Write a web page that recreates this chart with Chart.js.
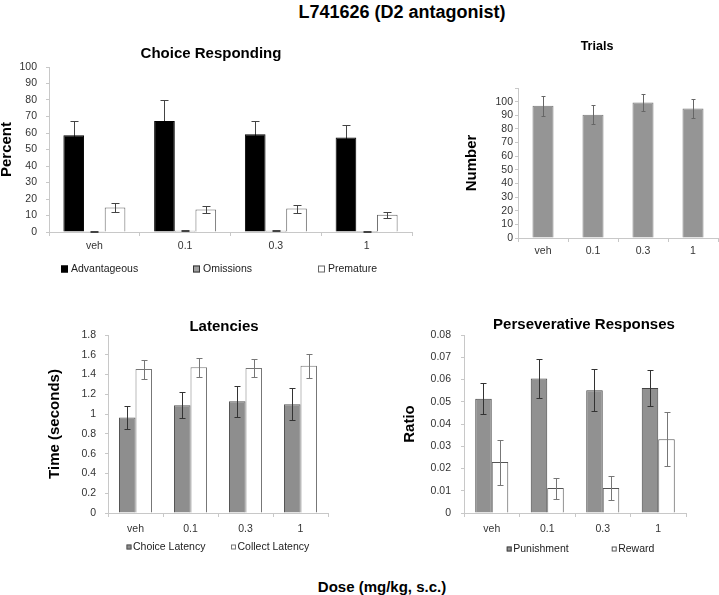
<!DOCTYPE html>
<html>
<head>
<meta charset="utf-8">
<script src="https://cdn.jsdelivr.net/npm/chart.js@4/dist/chart.umd.min.js"></script>
<style>
  html, body { margin: 0; padding: 0; background: #fff; }
  body { width: 719px; height: 595px; overflow: hidden; position: relative; font-family: 'Liberation Sans', Arial, sans-serif; }
  canvas { position: absolute; }
  .txt { position: absolute; text-align: center; font-weight: bold; color: #000; white-space: nowrap; }
</style>
</head>
<body>
<div class="txt" style="left:202px;width:400px;top:3px;font-size:18px;line-height:18px;">L741626 (D2 antagonist)</div>
<div class="txt" style="left:232px;width:300px;top:579px;font-size:15px;line-height:15px;">Dose (mg/kg, s.c.)</div>
<canvas id="c1" width="422" height="245" style="left:0px;top:40px;"></canvas>
<canvas id="c2" width="299" height="215" style="left:420px;top:40px;"></canvas>
<canvas id="c3" width="360" height="260" style="left:0px;top:300px;"></canvas>
<canvas id="c4" width="339" height="260" style="left:380px;top:300px;"></canvas>
<script>
// ---------- data ----------
const doses = ['veh', '0.1', '0.3', '1'];

const advantageous = [58.6, 67.3, 59.2, 57.2];
const advantageousErr = [8.5, 13, 8, 7.5];
const omissions = [0.4, 0.8, 0.8, 0.6];
const omissionsErr = [0.2, 0.4, 0.4, 0.3];
const premature = [14.8, 13.6, 14.2, 10.5];
const prematureErr = [2.7, 2.3, 2.4, 1.9];
const percentTicks = ['0', '10', '20', '30', '40', '50', '60', '70', '80', '90', '100'];

const trials = [96.9, 90.3, 99.3, 94.9];
const trialsErr = [7.5, 7, 6.5, 7];
const numberTicks = ['0', '10', '20', '30', '40', '50', '60', '70', '80', '90', '100', ''];

const choiceLatency = [0.965, 1.09, 1.13, 1.10];
const choiceLatencyErr = [0.12, 0.13, 0.155, 0.16];
const collectLatency = [1.455, 1.473, 1.466, 1.49];
const collectLatencyErr = [0.095, 0.095, 0.095, 0.12];
const timeTicks = ['0', '0.2', '0.4', '0.6', '0.8', '1', '1.2', '1.4', '1.6', '1.8'];

const punishment = [0.0513, 0.0604, 0.0552, 0.0562];
const punishmentErr = [0.007, 0.0087, 0.0095, 0.008];
const reward = [0.0229, 0.0112, 0.0112, 0.0332];
const rewardErr = [0.0101, 0.0047, 0.0055, 0.0123];
const ratioTicks = ['0', '0.01', '0.02', '0.03', '0.04', '0.05', '0.06', '0.07', '0.08'];

// ---------- helpers ----------
const FONT = "'Liberation Sans', Arial, sans-serif";
Chart.defaults.font.family = FONT;
Chart.defaults.color = '#333';
const AXIS = '#c8c8c8';

// behindFlags[i] true -> that dataset's error bars are drawn before the bars (hidden inside them)
function errorBarsPlugin(errs, colors, half, behindFlags) {
  function drawErrors(chart, wantBehind) {
    const ctx = chart.ctx, ys = chart.scales.y;
    chart.data.datasets.forEach((ds, i) => {
      const behind = !!(behindFlags && behindFlags[i]);
      if (behind !== wantBehind) return;
      const meta = chart.getDatasetMeta(i);
      meta.data.forEach((bar, j) => {
        const v = ds.data[j], e = errs[i][j];
        const x = Math.round(bar.x) + 0.5;
        const yt = Math.round(ys.getPixelForValue(v + e)) + 0.5;
        const yb = Math.round(ys.getPixelForValue(Math.max(v - e, 0))) + 0.5;
        ctx.save();
        ctx.strokeStyle = colors[i];
        ctx.lineWidth = 1;
        ctx.beginPath();
        ctx.moveTo(x, yt); ctx.lineTo(x, yb);
        ctx.moveTo(x - half, yt); ctx.lineTo(x + half, yt);
        ctx.moveTo(x - half, yb); ctx.lineTo(x + half, yb);
        ctx.stroke();
        ctx.restore();
      });
    });
  }
  return {
    id: 'errorBars',
    beforeDatasetsDraw(chart) { drawErrors(chart, true); },
    afterDatasetsDraw(chart) { drawErrors(chart, false); }
  };
}

function legendPlugin(xs, y, box, gap) {
  return {
    id: 'rowLegend',
    afterDraw(chart) {
      const ctx = chart.ctx;
      chart.data.datasets.forEach((ds, i) => {
        const x = xs[i];
        ctx.save();
        ctx.fillStyle = ds.backgroundColor;
        ctx.fillRect(x, y - box / 2, box, box);
        ctx.strokeStyle = ds.borderColor;
        ctx.lineWidth = 1;
        ctx.strokeRect(x + 0.5, y - box / 2 + 0.5, box - 1, box - 1);
        ctx.fillStyle = '#222';
        ctx.font = '10.5px ' + FONT;
        ctx.textBaseline = 'middle';
        ctx.textAlign = 'left';
        ctx.fillText(ds.label, x + box + gap, y + 0.5);
        ctx.restore();
      });
    }
  };
}

function titleCenterPlugin(cx) {
  return {
    id: 'titleCenter',
    afterLayout(chart) {
      const t = chart.titleBlock;
      if (!t) return;
      const w = t.right - t.left;
      t.left = cx - w / 2;
      t.right = cx + w / 2;
    }
  };
}

function makeChart(id, cfg) {
  const yTickLabels = cfg.yLabels;
  return new Chart(document.getElementById(id), {
    type: 'bar',
    data: { labels: doses, datasets: cfg.datasets },
    options: {
      responsive: false,
      animation: false,
      events: [],
      layout: { padding: cfg.padding },
      datasets: { bar: { categoryPercentage: cfg.catPct, barPercentage: 1, borderWidth: 1 } },
      plugins: {
        legend: { display: false },
        tooltip: { enabled: false },
        title: {
          display: true, text: cfg.title, color: '#000',
          font: { size: cfg.titleSize, weight: 'bold', lineHeight: 1 },
          padding: cfg.titlePad
        }
      },
      scales: {
        x: {
          grid: { display: true, drawOnChartArea: false, drawTicks: true, tickLength: 4, color: AXIS, offset: true },
          border: { display: true, color: AXIS },
          ticks: { font: { size: 10.5 }, padding: cfg.xPad, color: '#333', autoSkip: false, maxRotation: 0 },
          afterFit: s => { s.height = cfg.xHeight; }
        },
        y: {
          min: cfg.yMin, max: cfg.yMax,
          grid: { display: true, drawOnChartArea: false, drawTicks: true, tickLength: 3, color: AXIS },
          border: { display: true, color: AXIS },
          ticks: {
            stepSize: cfg.yStep, autoSkip: false, font: { size: 10.5 }, padding: cfg.yPad, color: '#333',
            callback: (v, i) => (yTickLabels[i] !== undefined ? yTickLabels[i] : '')
          },
          title: {
            display: true, text: cfg.yTitle, color: '#000',
            font: { size: 15, weight: 'bold', lineHeight: 1 },
            padding: { top: cfg.yTitleOff, bottom: 0 }
          },
          afterFit: s => { s.width = cfg.yWidth; }
        }
      }
    },
    plugins: cfg.plugins
  });
}

// ---------- Panel 1: Choice Responding ----------
const ds1 = [
  { label: 'Advantageous', data: advantageous, backgroundColor: '#000000', borderColor: '#000000' },
  { label: 'Omissions', data: omissions, backgroundColor: '#a0a0a0', borderColor: '#333333' },
  { label: 'Premature', data: premature, backgroundColor: '#ffffff', borderColor: '#666666' }
];
makeChart('c1', {
  datasets: ds1, title: 'Choice Responding', titleSize: 15, titlePad: { top: 6.5, bottom: 5.5 },
  padding: { left: 0, right: 10, top: 0, bottom: 28 }, catPct: 0.683,
  xHeight: 25, xPad: 4, yWidth: 49, yPad: 9, yMin: 0, yMax: 100, yStep: 10, yLabels: percentTicks,
  yTitle: 'Percent', yTitleOff: -0.5,
  plugins: [
    errorBarsPlugin([advantageousErr, omissionsErr, prematureErr], ['#444', '#444', '#444'], 4, [true, false, false]),
    legendPlugin([61, 193, 318], 229, 7, 3),
    titleCenterPlugin(211)
  ]
});

// ---------- Panel 2: Trials ----------
const ds2 = [
  { label: 'Trials', data: trials, backgroundColor: '#959595', borderColor: '#7a7a7a' }
];
makeChart('c2', {
  datasets: ds2, title: 'Trials', titleSize: 12.5, titlePad: { top: 0, bottom: 35.5 },
  padding: { left: 0, right: 1, top: 0, bottom: 0 }, catPct: 0.42,
  xHeight: 17, xPad: 3, yWidth: 98, yPad: 2, yMin: 0, yMax: 110, yStep: 10, yLabels: numberTicks,
  yTitle: 'Number', yTitleOff: 44.5,
  plugins: [
    errorBarsPlugin([trialsErr], ['#666'], 2, [false]),
    titleCenterPlugin(177)
  ]
});

// ---------- Panel 3: Latencies ----------
const ds3 = [
  { label: 'Choice Latency', data: choiceLatency, backgroundColor: '#8e8e8e', borderColor: '#555555' },
  { label: 'Collect Latency', data: collectLatency, backgroundColor: '#ffffff', borderColor: '#777777' }
];
makeChart('c3', {
  datasets: ds3, title: 'Latencies', titleSize: 15, titlePad: { top: 19.5, bottom: 0.5 },
  padding: { left: 0, right: 32, top: 0, bottom: 27 }, catPct: 0.6,
  xHeight: 20, xPad: 5.5, yWidth: 108, yPad: 9, yMin: 0, yMax: 1.8, yStep: 0.2, yLabels: timeTicks,
  yTitle: 'Time (seconds)', yTitleOff: 47.5,
  plugins: [
    errorBarsPlugin([choiceLatencyErr, collectLatencyErr], ['#333', '#777'], 3, [false, false]),
    legendPlugin([126.5, 231], 247, 5, 1.5),
    titleCenterPlugin(224)
  ]
});

// ---------- Panel 4: Perseverative Responses ----------
const ds4 = [
  { label: 'Punishment', data: punishment, backgroundColor: '#919191', borderColor: '#444444' },
  { label: 'Reward', data: reward, backgroundColor: '#ffffff', borderColor: '#555555' }
];
makeChart('c4', {
  datasets: ds4, title: 'Perseverative Responses', titleSize: 15, titlePad: { top: 17.5, bottom: 2.5 },
  padding: { left: 0, right: 33, top: 0, bottom: 27 }, catPct: 0.595,
  xHeight: 20, xPad: 5.5, yWidth: 84, yPad: 10, yMin: 0, yMax: 0.08, yStep: 0.01, yLabels: ratioTicks,
  yTitle: 'Ratio', yTitleOff: 22.5,
  plugins: [
    errorBarsPlugin([punishmentErr, rewardErr], ['#333', '#777'], 3, [false, false]),
    legendPlugin([126.7, 231.7], 249, 5, 1.5),
    titleCenterPlugin(204)
  ]
});
</script>
</body>
</html>
